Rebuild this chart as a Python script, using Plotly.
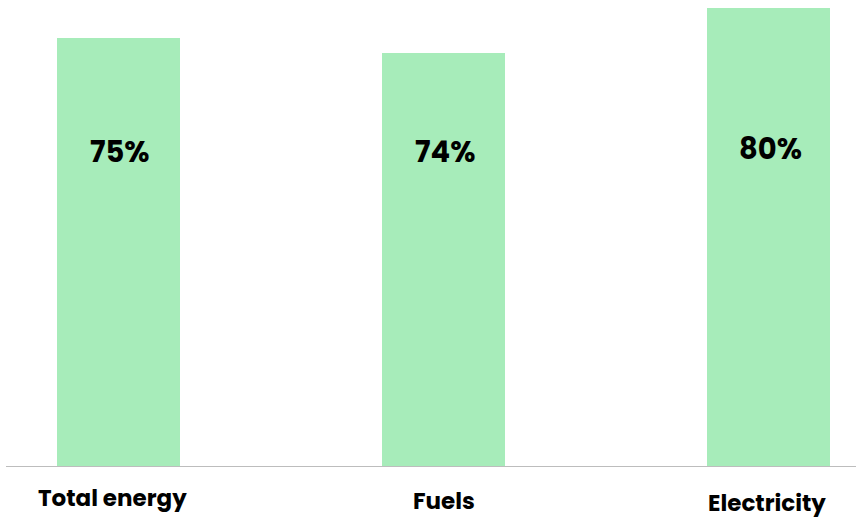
import plotly.graph_objects as go

categories = ["Total energy", "Fuels", "Electricity"]
bar_values = [75.0, 72.3, 80.2]
value_labels = ["75%", "74%", "80%"]

FONT = "Poppins, Inter, 'Noto Sans', sans-serif"
BAR_COLOR = "#a7ecba"

W, H = 856, 519
mt, mb, ml, mr = 0, 53, 6, 0
plot_h = H - mt - mb

fig = go.Figure()
fig.add_trace(go.Bar(
    x=list(range(len(categories))),
    y=bar_values,
    width=0.378,
    marker=dict(color=BAR_COLOR, line=dict(width=0)),
    hoverinfo="skip",
))

# value labels inside bars
label_y = [152, 152, 149]  # pixel rows of label centers
for i, (t, py) in enumerate(zip(value_labels, label_y)):
    fig.add_annotation(
        x=i + 0.006, xref="x", y=1 - (py - mt) / plot_h, yref="paper",
        text=f"<b>{t}</b>", showarrow=False,
        font=dict(family=FONT, size=29, color="#000000"),
        xanchor="center", yanchor="middle",
    )

# category labels
cat_pos = [(-0.017, 498), (0.0, 501), (-0.004, 503)]
for i, (c, (dx, py)) in enumerate(zip(categories, cat_pos)):
    fig.add_annotation(
        x=i + dx, xref="x", y=1 - (py - mt) / plot_h, yref="paper",
        text=f"<b>{c}</b>", showarrow=False,
        font=dict(family=FONT, size=23, color="#000000"),
        xanchor="center", yanchor="middle",
    )

fig.update_layout(
    width=W, height=H,
    margin=dict(l=ml, r=mr, t=mt, b=mb),
    paper_bgcolor="white", plot_bgcolor="white",
    showlegend=False,
    bargap=0,
)
fig.update_xaxes(
    range=[-0.346, 2.269], showticklabels=False, showgrid=False, zeroline=False,
    showline=True, linecolor="#bdbdbd", linewidth=1.2, ticks="",
)
fig.update_yaxes(
    range=[0, 81.6], showticklabels=False, showgrid=False, zeroline=False,
    showline=False, ticks="",
)

fig.write_html("out.html")
